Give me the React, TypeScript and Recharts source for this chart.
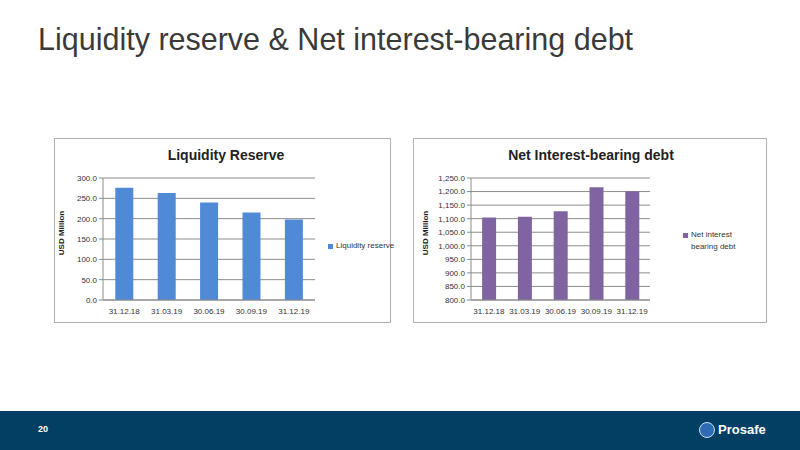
import { BarChart, Bar, XAxis, YAxis, CartesianGrid, Label } from "recharts";

const periods = ["31.12.18", "31.03.19", "30.06.19", "30.09.19", "31.12.19"];
const liquidityReserve = [276, 263, 240, 215, 198];
const netDebt = [1104, 1107, 1127, 1216, 1201];
const liquidityTicks = [0, 50, 100, 150, 200, 250, 300];
const debtTicks = [800, 850, 900, 950, 1000, 1050, 1100, 1150, 1200, 1250];

const liquidityData = periods.map((p, i) => ({ period: p, value: liquidityReserve[i] }));
const debtData = periods.map((p, i) => ({ period: p, value: netDebt[i] }));

const tickFont = { fill: "#333", fontSize: 8, fontFamily: "Liberation Sans" };
const fmt = (v: number) =>
  v.toLocaleString("en-US", { minimumFractionDigits: 1, maximumFractionDigits: 1 });

function LegendItem({ color, lines, top, left }: { color: string; lines: string[]; top: number; left: number }) {
  return (
    <div
      style={{
        position: "absolute",
        top,
        left,
        display: "flex",
        alignItems: "flex-start",
        fontFamily: "Liberation Sans",
        fontSize: 8,
        color: "#333",
        whiteSpace: "nowrap",
      }}
    >
      <div style={{ width: 5, height: 5, background: color, marginRight: 3, marginTop: 3 }} />
      <div style={{ lineHeight: "12px", marginTop: -1 }}>
        {lines.map((l) => (
          <div key={l}>{l}</div>
        ))}
      </div>
    </div>
  );
}

function ChartBox({
  left,
  width,
  title,
  titleCenter,
  data,
  color,
  ticks,
  domain,
  yWidth,
  labelOffset,
  rightMargin,
  gap,
  legend,
  legendTop,
  legendLeft,
}: any) {
  return (
    <div
      style={{
        position: "absolute",
        left,
        top: 138,
        width,
        height: 185,
        border: "1px solid #b0b0b0",
        boxSizing: "border-box",
        background: "#fff",
      }}
    >
      <div
        style={{
          position: "absolute",
          top: 8,
          left: titleCenter - 150,
          width: 300,
          textAlign: "center",
          fontFamily: "Liberation Sans",
          fontWeight: "bold",
          fontSize: 14,
          color: "#222",
        }}
      >
        {title}
      </div>
      <BarChart
        width={width - 2}
        height={183}
        data={data}
        margin={{ top: 39, right: rightMargin, bottom: 0, left: 0 }}
        barCategoryGap={gap}
      >
        <CartesianGrid vertical={false} stroke="#8c8c8c" />
        <XAxis
          dataKey="period"
          height={22}
          interval={0}
          tick={tickFont}
          tickLine={false}
          stroke="#8c8c8c"
        />
        <YAxis
          width={yWidth}
          domain={domain}
          ticks={ticks}
          interval={0}
          tick={tickFont}
          tickFormatter={fmt}
          tickSize={4}
          stroke="#8c8c8c"
        >
          <Label
            value="USD Million"
            angle={-90}
            position="insideLeft"
            offset={labelOffset}
            dy={-6}
            style={{ fontFamily: "Liberation Sans", fontSize: 8, fontWeight: "bold", fill: "#222", textAnchor: "middle" }}
          />
        </YAxis>
        <Bar dataKey="value" fill={color} isAnimationActive={false} />
      </BarChart>
      <LegendItem color={color} lines={legend} top={legendTop} left={legendLeft} />
    </div>
  );
}

export default function App() {
  return (
    <div style={{ position: "absolute", left: 0, top: 0, width: 800, height: 450, background: "#fff", overflow: "hidden" }}>
      <div
        style={{
          position: "absolute",
          left: 38,
          top: 22,
          fontFamily: "Liberation Sans",
          fontSize: 30.5,
          color: "#3a3a3a",
          whiteSpace: "nowrap",
        }}
      >
        Liquidity reserve &amp; Net interest-bearing debt
      </div>

      <ChartBox
        left={54}
        width={337}
        title="Liquidity Reserve"
        titleCenter={171}
        data={liquidityData}
        color="#5089d6"
        ticks={liquidityTicks}
        domain={[0, 300]}
        yWidth={48}
        labelOffset={6}
        rightMargin={75}
        gap="29%"
        legend={["Liquidity reserve"]}
        legendTop={102}
        legendLeft={273}
      />
      <ChartBox
        left={413}
        width={354}
        title="Net Interest-bearing debt"
        titleCenter={177}
        data={debtData}
        color="#8064a2"
        ticks={debtTicks}
        domain={[800, 1250]}
        yWidth={57}
        labelOffset={11}
        rightMargin={116}
        gap="31%"
        legend={["Net interest", "bearing debt"]}
        legendTop={91}
        legendLeft={269}
      />

      <div style={{ position: "absolute", left: 0, top: 411, width: 800, height: 39, background: "#033f62" }}>
        <div
          style={{
            position: "absolute",
            left: 38,
            top: 13,
            fontFamily: "Liberation Sans",
            fontWeight: "bold",
            fontSize: 9,
            color: "#fff",
          }}
        >
          20
        </div>
        <div
          style={{
            position: "absolute",
            left: 699,
            top: 11,
            width: 16,
            height: 16,
            borderRadius: "50%",
            background: "#2d6bb5",
            border: "1px solid #cfe0f2",
            boxSizing: "border-box",
          }}
        />
        <div
          style={{
            position: "absolute",
            left: 718,
            top: 11,
            fontFamily: "Liberation Sans",
            fontWeight: "bold",
            fontSize: 13,
            color: "#fff",
          }}
        >
          Prosafe
        </div>
      </div>
    </div>
  );
}
